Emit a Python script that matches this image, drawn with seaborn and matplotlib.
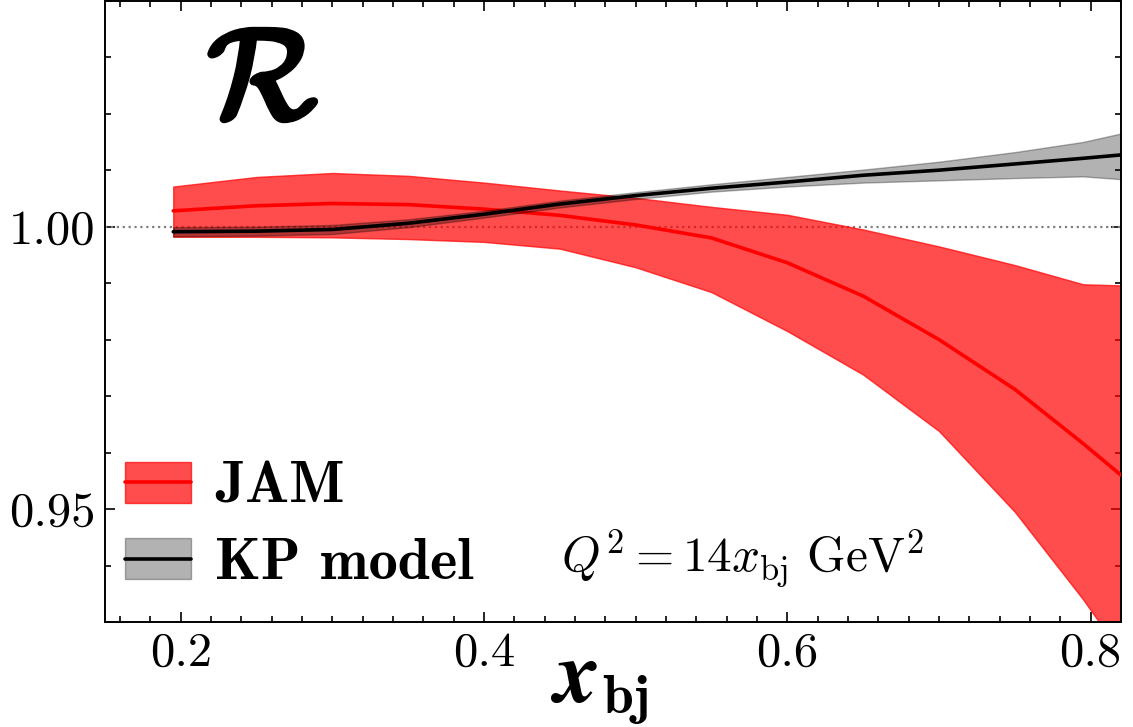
import numpy as np
import pandas as pd
import matplotlib
matplotlib.use("Agg")
import matplotlib.pyplot as plt
import matplotlib.patheffects as pe
from matplotlib.ticker import MultipleLocator, FormatStrFormatter
from matplotlib.legend_handler import HandlerTuple
from matplotlib.patches import Patch
from matplotlib.lines import Line2D
import seaborn as sns

# x_bj grid shared by both curves
x_bj = [0.195, 0.25, 0.30, 0.35, 0.40, 0.45, 0.50, 0.55, 0.60, 0.65, 0.70, 0.75, 0.795, 0.82]

# JAM ratio: central value and uncertainty band
jam_central = [1.0028, 1.0037, 1.0041, 1.0039, 1.0031, 1.0020, 1.0003, 0.9980, 0.9936,
               0.9877, 0.9800, 0.9712, 0.9616, 0.9560]
jam_upper = [1.0071, 1.0088, 1.0095, 1.0090, 1.0078, 1.0064, 1.0051, 1.0035, 1.0021,
             0.9995, 0.9965, 0.9932, 0.9898, 0.9896]
jam_lower = [0.9982, 0.9982, 0.9981, 0.9978, 0.9973, 0.9961, 0.9928, 0.9884, 0.9815,
             0.9738, 0.9638, 0.9495, 0.9340, 0.9245]

# KP model ratio: central value and uncertainty band
kp_central = [0.9991, 0.9992, 0.9995, 1.0006, 1.0022, 1.0040, 1.0055, 1.0068, 1.0079,
              1.0091, 1.0100, 1.0111, 1.0121, 1.0127]
kp_upper = [0.9999, 1.0000, 1.0003, 1.0013, 1.0028, 1.0046, 1.0061, 1.0075, 1.0088,
            1.0101, 1.0115, 1.0132, 1.0150, 1.0165]
kp_lower = [0.9983, 0.9984, 0.9987, 0.9999, 1.0016, 1.0034, 1.0049, 1.0062, 1.0071,
            1.0078, 1.0082, 1.0086, 1.0089, 1.0084]

series_labels = ["JAM", "KP model"]
x_ticks = [0.2, 0.4, 0.6, 0.8]
y_ticks = [0.95, 1.00]

sns.set_style("ticks")
plt.rcParams["font.family"] = ["cmr10"]
plt.rcParams["mathtext.fontset"] = "cm"
plt.rcParams["axes.unicode_minus"] = False
plt.rcParams["axes.formatter.use_mathtext"] = True
for key in ("text.color", "axes.labelcolor", "xtick.color", "ytick.color", "axes.edgecolor"):
    plt.rcParams[key] = "black"

df = pd.DataFrame({
    "x": x_bj * 2,
    "R": jam_central + kp_central,
    "model": [series_labels[0]] * len(x_bj) + [series_labels[1]] * len(x_bj),
})

W, H = 1133, 727
fig = plt.figure(figsize=(W / 100, H / 100), dpi=100)
ax = fig.add_axes([105 / W, 1 - 622 / H, 1016 / W, 622 / H - 0.001])

ax.axhline(1.0, color="gray", ls=":", lw=1.6, zorder=1)

ax.fill_between(x_bj, jam_lower, jam_upper, color="red", alpha=0.7, lw=1, zorder=2)
sns.lineplot(data=df[df.model == series_labels[0]], x="x", y="R", color="red", lw=2.6,
             ax=ax, zorder=3, legend=False)
ax.fill_between(x_bj, kp_lower, kp_upper, color="k", alpha=0.3, lw=1, zorder=4)
sns.lineplot(data=df[df.model == series_labels[1]], x="x", y="R", color="black", lw=2.6,
             ax=ax, zorder=5, legend=False)

ax.set_xlim(0.15, 0.82)
ax.set_ylim(0.93, 1.04)
ax.xaxis.set_major_locator(plt.FixedLocator(x_ticks))
ax.xaxis.set_minor_locator(MultipleLocator(0.02))
ax.yaxis.set_major_locator(plt.FixedLocator(y_ticks))
ax.yaxis.set_minor_locator(MultipleLocator(0.01))
ax.xaxis.set_major_formatter(FormatStrFormatter("%.1f"))
ax.yaxis.set_major_formatter(FormatStrFormatter("%.2f"))
ax.tick_params(which="both", direction="in", top=True, right=True, labelsize=35,
               width=1.2, color="black")
ax.tick_params(which="major", length=7.5, pad=7)
ax.tick_params(which="minor", length=4.5)
for s in ax.spines.values():
    s.set_linewidth(1.4)
    s.set_color("black")

# axis title x_bj: bold italic x with a bold "bj" subscript
ax.set_xlabel("")
ax.set_ylabel("")
fig.text(550 / W, 1 - 702 / H, r"$\mathbfit{x}$", fontsize=64, ha="left", va="baseline",
         math_fontfamily="stix")
fig.text(602 / W, 1 - 713 / H, r"$\mathbf{bj}$", fontsize=40, ha="left", va="baseline")

ax.text(0.155, 0.862, r"$\mathcal{R}$", transform=ax.transAxes, fontsize=92,
        ha="center", va="center",
        path_effects=[pe.withStroke(linewidth=4.5, foreground="black")])
ax.text(0.449, 0.081, r"$Q^2=14x_{\rm bj}\ {\rm GeV}^2$", transform=ax.transAxes,
        fontsize=35.5, ha="left", va="baseline")

h_jam = (Patch(facecolor="red", edgecolor="red", alpha=0.7), Line2D([], [], color="red", lw=2.6))
h_kp = (Patch(facecolor="k", edgecolor="k", alpha=0.3), Line2D([], [], color="black", lw=2.6))
ax.legend([h_jam, h_kp], series_labels, handler_map={tuple: HandlerTuple(ndivide=1)},
          loc="upper left", bbox_to_anchor=(0.02, 0.258), frameon=False,
          prop={"family": "cmb10", "size": 42}, handlelength=1.12, handleheight=0.7,
          handletextpad=0.42, labelspacing=0.4, borderpad=0, borderaxespad=0)

fig.savefig("out.png", dpi=100)
